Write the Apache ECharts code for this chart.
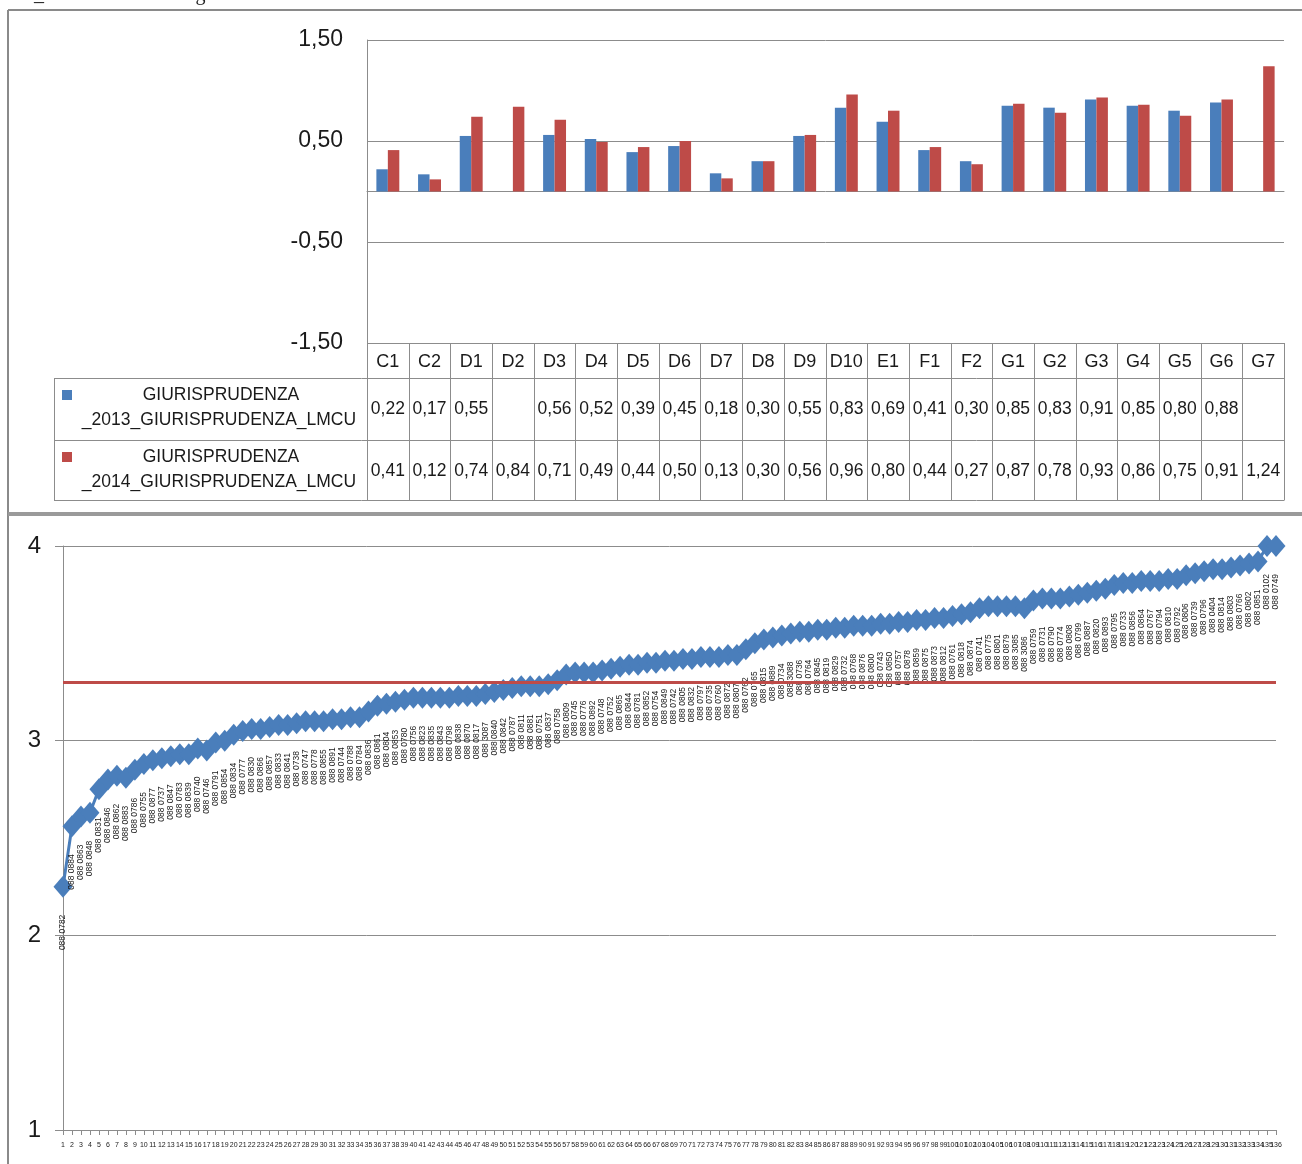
<!DOCTYPE html>
<html><head><meta charset="utf-8">
<script src="https://cdn.jsdelivr.net/npm/echarts@6/dist/echarts.min.js"></script>
<style>html,body{margin:0;padding:0;background:#fff;overflow:hidden}#c{width:1302px;height:1164px}</style>
</head><body><div id="c"></div><script>
// ---------- DATA ----------
const titleText = '050_Corso di laurea magistrale GIURISPRUDENZA LMCU';
const categories = ['C1','C2','D1','D2','D3','D4','D5','D6','D7','D8','D9','D10','E1','F1','F2','G1','G2','G3','G4','G5','G6','G7'];
const values2013 = [0.22,0.17,0.55,null,0.56,0.52,0.39,0.45,0.18,0.30,0.55,0.83,0.69,0.41,0.30,0.85,0.83,0.91,0.85,0.80,0.88,null];
const values2014 = [0.41,0.12,0.74,0.84,0.71,0.49,0.44,0.50,0.13,0.30,0.56,0.96,0.80,0.44,0.27,0.87,0.78,0.93,0.86,0.75,0.91,1.24];
const seriesNames = ['GIURISPRUDENZA\n_2013_GIURISPRUDENZA_LMCU','GIURISPRUDENZA\n_2014_GIURISPRUDENZA_LMCU'];
const barTicks = [-1.5,-0.5,0.5,1.5];

const scoreValues = [2.25,2.56,2.61,2.63,2.75,2.80,2.82,2.81,2.85,2.88,
 2.90,2.91,2.92,2.93,2.93,2.96,2.95,2.99,3.00,3.03,
 3.05,3.06,3.06,3.07,3.08,3.08,3.09,3.10,3.10,3.10,
 3.11,3.11,3.12,3.12,3.15,3.18,3.19,3.20,3.21,3.22,
 3.22,3.22,3.22,3.22,3.23,3.23,3.23,3.24,3.25,3.26,
 3.27,3.28,3.28,3.28,3.29,3.31,3.34,3.35,3.35,3.35,
 3.36,3.37,3.38,3.39,3.39,3.40,3.40,3.41,3.41,3.42,
 3.42,3.43,3.43,3.43,3.44,3.44,3.47,3.50,3.52,3.53,
 3.54,3.55,3.56,3.56,3.57,3.57,3.58,3.58,3.59,3.59,
 3.59,3.60,3.60,3.61,3.61,3.62,3.62,3.63,3.63,3.64,
 3.65,3.66,3.68,3.69,3.69,3.69,3.69,3.68,3.72,3.73,
 3.73,3.73,3.74,3.75,3.76,3.77,3.78,3.80,3.81,3.81,
 3.82,3.82,3.82,3.83,3.83,3.85,3.86,3.87,3.88,3.88,
 3.89,3.90,3.91,3.92,4.00,4.00];
const scoreLabels = ['088 0782','088 0884','088 0863','088 0848','088 0831','088 0846','088 0862','088 0883','088 0786','088 0755',
 '088 0877','088 0737','088 0847','088 0783','088 0839','088 0740','088 0746','088 0791','088 0854','088 0834',
 '088 0777','088 0830','088 0866','088 0857','088 0833','088 0841','088 0738','088 0747','088 0778','088 0855',
 '088 0891','088 0744','088 0788','088 0784','088 0836','088 0861','088 0804','088 0853','088 0780','088 0756',
 '088 0823','088 0835','088 0843','088 0798','088 0838','088 0870','088 0817','088 3087','088 0840','088 0842',
 '088 0787','088 0811','088 0881','088 0751','088 0837','088 0758','088 0809','088 0745','088 0776','088 0892',
 '088 0748','088 0752','088 0865','088 0844','088 0781','088 0852','088 0754','088 0849','088 0742','088 0805',
 '088 0832','088 0797','088 0735','088 0760','088 0872','088 0807','088 0762','088 0765','088 0815','088 0889',
 '088 0734','088 3088','088 0736','088 0764','088 0845','088 0819','088 0829','088 0732','088 0768','088 0876',
 '088 0800','088 0743','088 0850','088 0757','088 0878','088 0859','088 0875','088 0873','088 0812','088 0761',
 '088 0818','088 0874','088 0741','088 0775','088 0801','088 0879','088 3085','088 3086','088 0759','088 0731',
 '088 0790','088 0774','088 0808','088 0799','088 0887','088 0820','088 0893','088 0795','088 0733','088 0856',
 '088 0864','088 0767','088 0794','088 0810','088 0792','088 0806','088 0739','088 0796','088 0404','088 0814',
 '088 0803','088 0766','088 0802','088 0851','088 0102','088 0749'];
const scoreCategories = scoreValues.map((v, i) => String(i + 1));
const scoreTicks = [1,2,3,4];
const threshold = 3.30;

// ---------- STYLE ----------
const BLUE = '#4A7EBB', RED = '#BE4B48', GRID = '#8c8c8c', TXT = '#1a1a1a';
const SANS = '"Liberation Sans",Arial,sans-serif';
const fmt = v => v == null ? '' : v.toFixed(2).replace('.', ',');

const chart = echarts.init(document.getElementById('c'), null, {renderer: 'canvas'});
const G0 = {left: 367, top: 40, width: 917, height: 303, containLabel: false, outerBoundsMode: 'none'};
const G1 = {left: 63, top: 546, right: 26, bottom: 34, containLabel: false, outerBoundsMode: 'none'};

chart.setOption({
  animation: false,
  backgroundColor: '#fff',
  grid: [G0, G1],
  xAxis: [
    {type: 'category', gridIndex: 0, data: categories,
     axisLine: {show: true, onZero: true, onZeroAxisIndex: 0, lineStyle: {color: GRID, width: 1}},
     axisTick: {show: false}, axisLabel: {show: false}, splitLine: {show: false}},
    {type: 'category', gridIndex: 1, data: scoreCategories, boundaryGap: false,
     axisLine: {show: true, lineStyle: {color: GRID, width: 1}},
     axisTick: {show: true, interval: 0, length: 5, lineStyle: {color: GRID}},
     axisLabel: {show: true, interval: 0, fontSize: 7, margin: 12, color: TXT, fontFamily: SANS},
     splitLine: {show: false}}
  ],
  yAxis: [
    {type: 'value', gridIndex: 0, position: 'left', min: barTicks[0], max: barTicks[barTicks.length - 1],
     axisLine: {show: false}, axisTick: {show: false}, axisLabel: {show: false}, splitLine: {show: false}},
    {type: 'value', gridIndex: 0, position: 'left', offset: 0, min: 0, max: barTicks[barTicks.length - 1] - barTicks[0], interval: 1,
     axisLine: {show: true, lineStyle: {color: GRID}}, axisTick: {show: false},
     axisLabel: {formatter: v => fmt(v + barTicks[0]), fontSize: 23, color: TXT, margin: 24, fontFamily: SANS},
     splitLine: {show: true, lineStyle: {color: GRID, width: 1}}},
    {type: 'value', gridIndex: 1, position: 'left', min: scoreTicks[0], max: scoreTicks[scoreTicks.length - 1], interval: 1,
     axisLine: {show: true, lineStyle: {color: GRID}},
     axisTick: {show: true, length: 8, lineStyle: {color: GRID}},
     axisLabel: {fontSize: 24, color: TXT, margin: 22, fontFamily: SANS},
     splitLine: {show: true, lineStyle: {color: GRID, width: 1}}}
  ],
  series: [
    {type: 'bar', name: seriesNames[0], xAxisIndex: 0, yAxisIndex: 0, data: values2013,
     itemStyle: {color: BLUE}, barGap: '0%', barCategoryGap: '45%'},
    {type: 'bar', name: seriesNames[1], xAxisIndex: 0, yAxisIndex: 0, data: values2014,
     itemStyle: {color: RED}, barGap: '0%', barCategoryGap: '45%'},
    {type: 'line', xAxisIndex: 1, yAxisIndex: 2, data: scoreValues, z: 3,
     symbol: 'diamond', symbolSize: [19, 22], showAllSymbol: true,
     lineStyle: {color: BLUE, width: 3}, itemStyle: {color: BLUE},
     label: {show: true, position: 'bottom', distance: 17, rotate: 90, align: 'right', verticalAlign: 'middle',
       formatter: p => scoreLabels[p.dataIndex], fontSize: 8.5, color: TXT, fontFamily: SANS},
     labelLayout: {hideOverlap: false}},
    {type: 'line', xAxisIndex: 1, yAxisIndex: 2, data: [], z: 5,
     markLine: {silent: true, symbol: 'none', label: {show: false},
       lineStyle: {color: RED, width: 3, type: 'solid'}, data: [{yAxis: threshold}]}}
  ]
});

// ---------- TABLE / FRAME (positions from the axis scale) ----------
const centers = categories.map(c => chart.convertToPixel({xAxisIndex: 0}, c));
const colW = centers.length > 1 ? centers[1] - centers[0] : 40;
const x0 = centers[0] - colW / 2, x1 = centers[centers.length - 1] + colW / 2;
const tBottom = G0.top + G0.height;
const rowTop = [378, 440, 500];
const legendLeft = 54;
const g = [];
const ln = (a, b, c, d, col, w) => ({type: 'line', silent: true, shape: {x1: a, y1: b, x2: c, y2: d}, style: {stroke: col || GRID, lineWidth: w || 1}});
const tx = (x, y, t, size, align, fam) => ({type: 'text', silent: true, x: x, y: y,
  style: {text: t, fontSize: size, fill: TXT, align: align || 'center', verticalAlign: 'middle', fontFamily: fam || SANS}});

for (let k = 0; k <= categories.length; k++) {
  const x = Math.round(x0 + k * colW) + 0.5;
  g.push(ln(x, tBottom, x, rowTop[2] + 0.5));
}
g.push(ln(legendLeft + 0.5, rowTop[0] + 0.5, legendLeft + 0.5, rowTop[2] + 0.5));
rowTop.forEach(y => g.push(ln(legendLeft, y + 0.5, x1, y + 0.5)));
categories.forEach((c, i) => {
  g.push(tx(centers[i], (tBottom + rowTop[0]) / 2 + 2, c, 18));
  g.push(tx(centers[i], (rowTop[0] + rowTop[1]) / 2, fmt(values2013[i]), 17.5));
  g.push(tx(centers[i], (rowTop[1] + rowTop[2]) / 2 + 1, fmt(values2014[i]), 17.5));
});
[[values2013, BLUE], [values2014, RED]].forEach((s, r) => {
  const top = rowTop[r];
  g.push({type: 'rect', silent: true, shape: {x: 62, y: top + 12, width: 10, height: 10}, style: {fill: s[1]}});
  const lines = seriesNames[r].split('\n');
  g.push(tx(221, top + 17, lines[0], 17.5));
  g.push(tx(219, top + 42, lines[1], 17.5));
});
g.push(ln(8, 10, 1302, 10, '#8a8a8a', 2));
g.push(ln(8, 10, 8, 1164, '#8a8a8a', 2));
g.push(ln(8, 514, 1302, 514, '#9a9a9a', 4));
g.push({type: 'text', silent: true, x: 4, y: 5,
  style: {text: titleText, fontSize: 20, fill: '#222', align: 'left', verticalAlign: 'bottom', fontFamily: '"Liberation Serif",serif'}});

chart.setOption({graphic: g});
</script></body></html>
